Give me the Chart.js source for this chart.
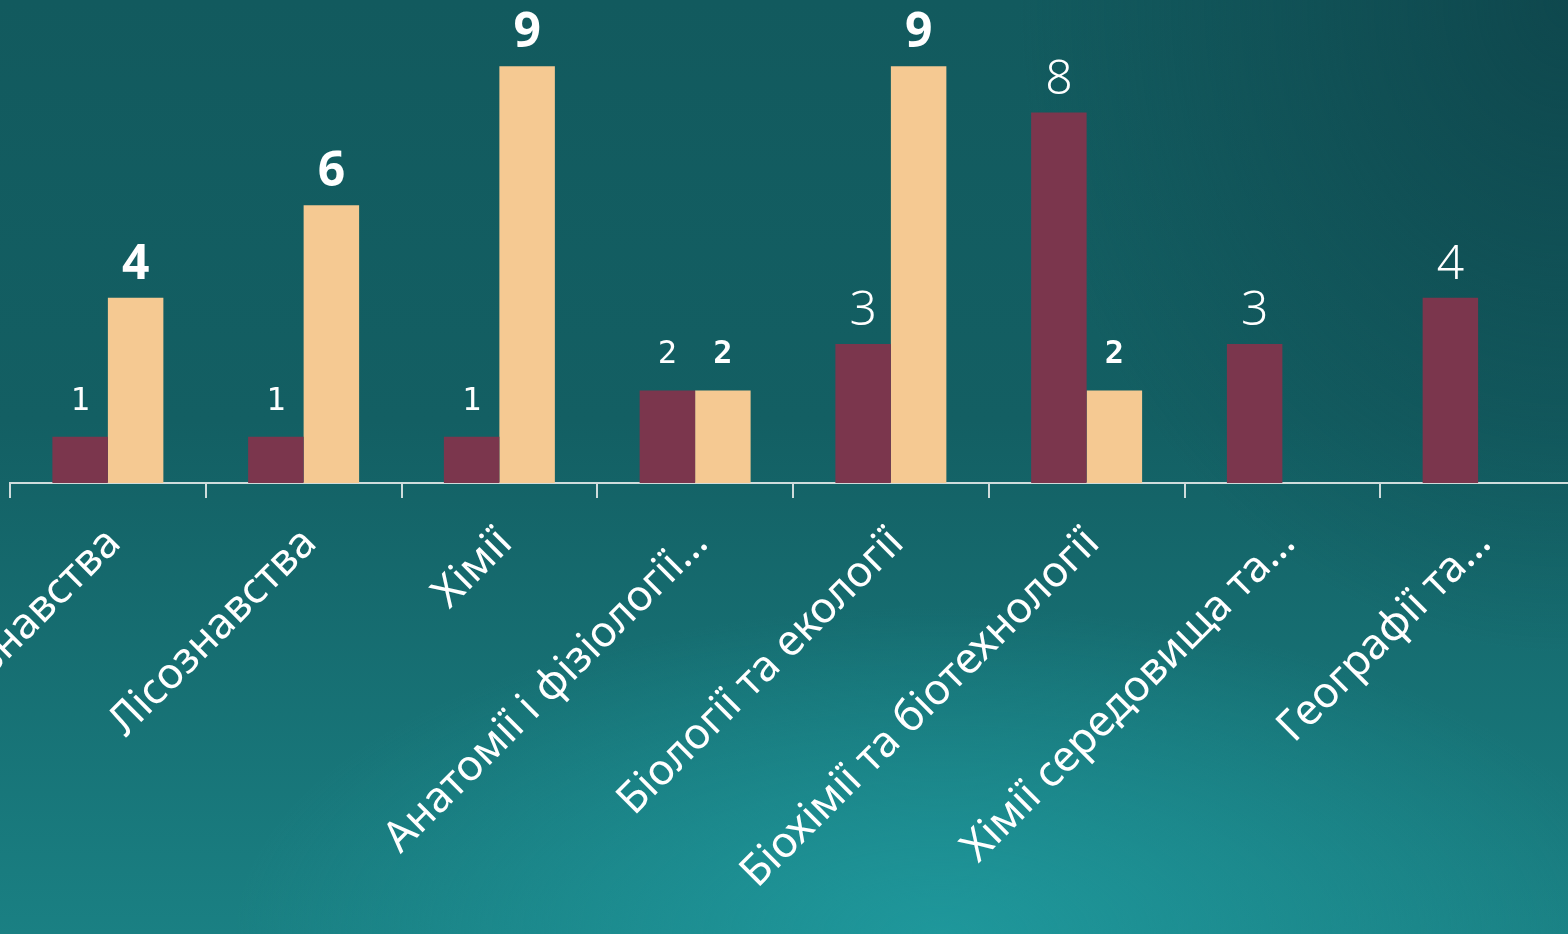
<!DOCTYPE html>
<html><head><meta charset="utf-8">
<script src="https://cdn.jsdelivr.net/npm/chart.js@4/dist/chart.umd.min.js"></script>
<style>
html,body{margin:0;padding:0;width:1568px;height:934px;overflow:hidden;}
body{background:
 radial-gradient(ellipse 45% 35% at 60% 100%, rgba(31,154,158,0.9) 0%, rgba(31,154,158,0) 100%),
 radial-gradient(ellipse 35% 70% at 100% 0%, rgba(14,70,76,0.9) 0%, rgba(14,70,76,0) 100%),
 linear-gradient(180deg, #125a5e 0%, #135f63 45%, #1a8083 100%);}
#wrap{position:absolute;left:0;top:0;width:1586px;height:934px;}
</style></head><body>
<div id="wrap"><canvas id="c"></canvas></div>
<script>
const categories = ["Ґрунтознавства", "Лісознавства", "Хімії", "Анатомії і фізіології…", "Біології та екології", "Біохімії та біотехнології", "Хімії середовища та…", "Географії та…"];
const seriesA = [1, 1, 1, 2, 3, 8, 3, 4];
const seriesB = [4, 6, 9, 2, 9, 2, null, null];
const colorA = "#7b364d";
const colorB = "#f5c992";

const valueLabels = {
  id: 'valueLabels',
  afterDatasetsDraw(chart) {
    const ctx = chart.ctx;
    ctx.save();
    chart.data.datasets.forEach((ds, di) => {
      const meta = chart.getDatasetMeta(di);
      meta.data.forEach((bar, i) => {
        const v = ds.data[i];
        if (v == null) return;
        const small = v <= 2;
        const weight = di === 1 ? 'bold' : (small ? 'normal' : '300');
        ctx.font = small ? `${weight} 32px "DejaVu Sans Mono"` : `${weight} 48px "Noto Sans", "Open Sans"`;
        ctx.fillStyle = '#ffffff';
        ctx.textAlign = 'center';
        ctx.textBaseline = 'alphabetic';
        ctx.fillText(String(v), bar.x, bar.y - (small ? 27 : 19));
      });
    });
    ctx.restore();
  }
};

new Chart(document.getElementById('c'), {
  type: 'bar',
  data: {
    labels: categories,
    datasets: [
      { data: seriesA, backgroundColor: colorA, categoryPercentage: 0.567, barPercentage: 1 },
      { data: seriesB, backgroundColor: colorB, categoryPercentage: 0.567, barPercentage: 1 }
    ]
  },
  options: {
    responsive: true,
    maintainAspectRatio: false,
    animation: false,
    layout: { padding: { top: 20, left: 10, right: 10, bottom: 0 } },
    plugins: { legend: { display: false }, tooltip: { enabled: false } },
    scales: {
      y: { display: false, min: 0, max: 10 },
      x: {
        afterFit(scale) { scale.paddingLeft = 0; scale.paddingRight = 0; scale.height = 451; },
        border: { display: true, color: '#cfdcdc', width: 2 },
        grid: { drawOnChartArea: false, drawTicks: true, tickLength: 15, color: '#cfdcdc', lineWidth: 2, offset: true },
        ticks: {
          autoSkip: false, maxRotation: 45, minRotation: 45, padding: 20, labelOffset: 6,
          color: '#ffffff',
          font: { family: '"Noto Sans", "Open Sans", sans-serif', size: 43 }
        }
      }
    }
  },
  plugins: [valueLabels]
});
</script>
</body></html>
